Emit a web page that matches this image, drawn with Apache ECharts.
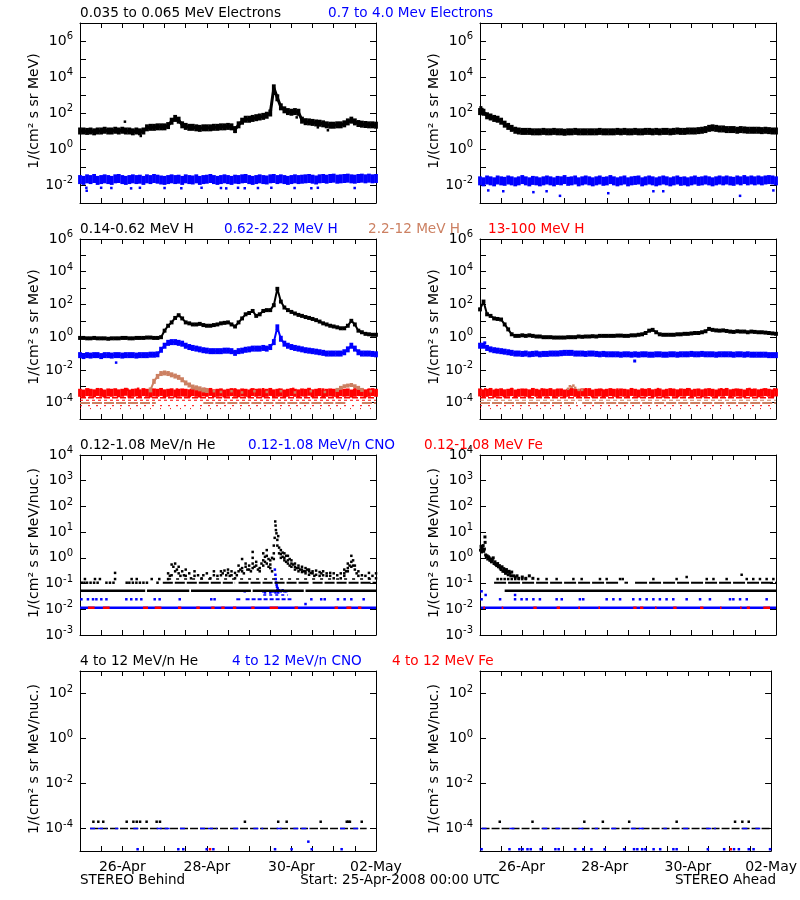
<!DOCTYPE html>
<html><head><meta charset="utf-8">
<script src="https://cdn.jsdelivr.net/npm/echarts@6/dist/echarts.min.js"></script>
<style>html,body{margin:0;padding:0;background:#fff}#c{width:800px;height:900px}</style>
</head><body><div id="c"></div>
<script>
// ---------------- DATA ----------------
// time: hours since 25-Apr-2008 00:00 UTC; tabulated curves are sampled every 2 h
const START_MS = Date.UTC(2008, 3, 25);
const SAMPLE_STEP_H = 2;
const xLabelHours = [24, 72, 120, 168];
const monthNames = ['Jan','Feb','Mar','Apr','May','Jun','Jul','Aug','Sep','Oct','Nov','Dec'];

// Row 1: electrons
const eLoBehind = [10,10,9.5,10,9,10,10,11,10,10,11,10,11,10,10,9,10,9,10,
  15,16,16,17,17,17,20,35,50,40,22,18,16,16,15,14,15,15,15,16,16,17,17,18,17,
  12,22,35,45,45,50,55,60,65,75,100,2500,700,220,150,120,110,120,110,40,33,32,30,28,27,25,22,21,21,22,22,25,32,40,32,26,24,23,22,22,21];
const eLoBehindOut = [[25.5,33],[34.5,5.3],[123,57],[135,16],[140.7,11],[88,9]];
const eHiBehind = [0.020,0.018,0.022,0.020,0.023,0.018,0.020,0.022,0.020,0.018,
  0.022,0.023,0.020,0.018,0.020,0.022,0.020,0.021,0.018,0.022,
  0.020,0.023,0.021,0.019,0.018,0.020,0.022,0.020,0.021,0.018,
  0.022,0.020,0.019,0.022,0.018,0.020,0.021,0.023,0.020,0.018,
  0.020,0.022,0.020,0.018,0.021,0.020,0.022,0.023,0.020,0.018,
  0.020,0.022,0.020,0.019,0.022,0.023,0.020,0.022,0.020,0.018,
  0.020,0.022,0.020,0.021,0.022,0.023,0.021,0.019,0.022,0.023,
  0.021,0.023,0.024,0.021,0.022,0.023,0.024,0.022,0.021,0.023,
  0.024,0.022,0.024,0.022,0.023];
const eHiBehindOut = [[3.6,0.007],[3.8,0.0048],[12,0.007],[17.8,0.0068],[29,0.0065],[34,0.007],[48,0.0068],[57.5,0.0066],[69,0.007],[80,0.0068],[83,0.0065],[89.7,0.007],[93.5,0.0066],[101,0.0068],[108.6,0.007],[121.8,0.0068],[131.3,0.0066],[135,0.007],[155.9,0.0068]];
const eLoAhead = [120,110,70,60,50,45,35,24,18,14,
  11,10,9.5,9.5,9.5,9,9,9,9.5,9,
  9,9.5,9,9,8.5,9,9,9.5,9,9,
  9,9,9,9,9.5,9,9,9,9,9.5,
  9,9.5,9,9,9.5,9,9,9.5,9.5,9,
  9.5,9,9.5,9.5,9,9.5,10,9.5,9.5,10,
  10,10,10.5,11,12,14,15,14,13,13,
  12,12,12,11,12,11.5,11,11,11,11,
  10.5,11,10.5,10,10];
const eLoAheadOut = [[0.5,200],[1.2,160],[3,90]];
const eHiAhead = [0.017,0.015,0.019,0.017,0.015,0.019,0.017,0.016,0.019,0.017,
  0.015,0.017,0.020,0.017,0.015,0.018,0.017,0.015,0.017,0.019,
  0.017,0.015,0.018,0.017,0.020,0.016,0.017,0.019,0.015,0.017,
  0.019,0.017,0.015,0.017,0.019,0.016,0.017,0.020,0.017,0.015,
  0.017,0.019,0.015,0.017,0.018,0.019,0.015,0.017,0.019,0.017,
  0.015,0.017,0.019,0.017,0.015,0.017,0.019,0.016,0.017,0.015,
  0.017,0.019,0.016,0.017,0.019,0.017,0.015,0.017,0.019,0.017,
  0.019,0.017,0.016,0.019,0.017,0.020,0.017,0.019,0.017,0.019,
  0.017,0.019,0.020,0.019,0.017];
const eHiAheadOut = [[4.7,0.005],[13.2,0.0045],[30.3,0.004],[37.8,0.0045],[45.4,0.0025],[72.8,0.0035],[98.4,0.0045],[104,0.0045],[147.6,0.0025],[166.5,0.005]];

// Row 2: protons
const hLoBehind = [0.9,0.9,0.85,0.85,0.9,0.85,0.85,0.85,0.8,0.85,0.85,0.85,0.9,0.9,0.85,0.85,0.9,0.9,0.9,0.95,0.95,0.9,0.9,1.0,
  2.5,5,8,15,22,14,8,7,6,6,
  6.5,5.5,5,5,5.5,6,7,7.5,8,6,
  4.5,8,14,25,30,40,20,25,40,45,
  45,90,900,150,65,45,35,28,23,20,
  17,15,13,11,9,7,6,5,4.5,4,
  3.5,3.5,5,10,6,2.5,2,1.6,1.5,1.4,
  1.4];
const hMidBehind = [0.08,0.07,0.08,0.075,0.08,0.08,0.07,0.08,0.08,0.075,0.08,0.08,0.075,0.08,0.08,0.08,0.075,0.08,0.08,0.08,0.085,0.085,0.09,
  0.17,0.3,0.45,0.5,0.5,0.45,0.4,0.3,0.25,0.22,
  0.2,0.18,0.16,0.15,0.14,0.14,0.14,0.14,0.15,0.15,
  0.14,0.11,0.14,0.15,0.17,0.18,0.2,0.2,0.2,0.22,
  0.2,0.25,0.5,4,0.8,0.4,0.3,0.25,0.22,0.2,
  0.18,0.16,0.15,0.14,0.13,0.12,0.11,0.1,0.1,0.1,
  0.1,0.1,0.12,0.18,0.3,0.2,0.12,0.1,0.1,0.1,
  0.095,0.09];
const hMidBehindOut = [[20.5,0.028]];
const hHiBehind = [[40,0.0006],[42,0.002],[44,0.004],[46,0.006],[48,0.0065],[50,0.006],[52,0.005],[54,0.0042],[56,0.0035],[58,0.0025],[60,0.0016],[62,0.0012],[64,0.0009],[66,0.0008],[68,0.0007],[70,0.0006],[72,0.00055]];
const hHiBehindBump = [[146,0.0006],[148,0.0008],[150,0.001],[152,0.0011],[154,0.0012],[156,0.001],[158,0.0008],[160,0.0006]];
const hHiBehindDots = [[76,0.0005],[80,0.00045],[86,0.0005],[92,0.00042],[99,0.0005],[106,0.00045],[114,0.0005],[122,0.00042],[131,0.0005],[139,0.00045],[165,0.0005]];
const hTopBehind = [4.0e-4,3.6e-4,4.4e-4,4.0e-4,3.7e-4,4.5e-4,4.0e-4,3.6e-4,4.2e-4,4.0e-4,
  4.3e-4,3.7e-4,4.0e-4,4.6e-4,3.6e-4,4.0e-4,4.2e-4,3.7e-4,4.4e-4,4.0e-4,
  3.6e-4,4.2e-4,4.0e-4,4.5e-4,3.7e-4,4.0e-4,4.3e-4,3.6e-4,4.0e-4,4.2e-4,
  4.0e-4,3.7e-4,4.4e-4,4.0e-4,3.6e-4,4.2e-4,4.0e-4,4.5e-4,3.7e-4,4.0e-4,
  4.2e-4,3.6e-4,4.0e-4,4.4e-4,4.0e-4,3.7e-4,4.2e-4,4.0e-4,3.6e-4,4.4e-4,
  4.0e-4,4.2e-4,3.7e-4,4.0e-4,4.5e-4,3.7e-4,4.0e-4,4.2e-4,3.6e-4,4.0e-4,
  4.4e-4,4.0e-4,3.7e-4,4.2e-4,4.0e-4,4.6e-4,3.7e-4,4.0e-4,4.4e-4,3.6e-4,
  4.0e-4,4.2e-4,4.0e-4,3.7e-4,4.4e-4,4.0e-4,4.2e-4,3.6e-4,4.0e-4,4.4e-4,
  4.2e-4,3.7e-4,4.0e-4,4.4e-4,4.0e-4];
const hTopBehindOut = [[5,6e-4],[12,6.5e-4],[20,5.8e-4],[27,6.2e-4],[33,7e-4],[41,6e-4],[55,6.3e-4],[63,6e-4],[71,6.8e-4],[80,5.9e-4],[88,6.4e-4],[97,6e-4],[104,6.6e-4],[113,6.1e-4],[121,6.9e-4],[130,6e-4],[138,6.3e-4],[147,6e-4],[156,6.5e-4],[164,6.2e-4]];
const hTopLevelsBehind = [2.0e-4, 1.4e-4, 6.5e-5, 4.3e-5];
const hHiLevelBehind = 9.5e-5;
const hHiLevelSegsBehind = [[0,43],[70,151],[160,168]];

const hLoAhead = [50,150,25,20,14,13,12,6,3,1.5,
  1.2,1.2,1.3,1.2,1.3,1.2,1.1,1.1,1.0,1.0,
  1.0,0.95,0.95,0.95,0.95,1.0,1.0,1.0,1.1,1.05,
  1.1,1.1,1.15,1.1,1.2,1.2,1.2,1.2,1.2,1.25,
  1.25,1.2,1.2,1.3,1.3,1.4,1.5,1.8,2.5,2.8,
  2.0,1.5,1.4,1.4,1.4,1.4,1.5,1.5,1.6,1.6,
  1.7,1.8,1.8,2.0,2.3,3.2,2.8,2.6,2.5,2.6,
  2.4,2.2,2.1,2.3,2.2,2.2,2.0,2.2,2.1,2.0,
  2.0,1.9,1.8,1.7,1.6];
const hMidAhead = [0.3,0.3,0.22,0.18,0.16,0.15,0.14,0.13,0.12,0.11,
  0.1,0.1,0.095,0.1,0.09,0.095,0.1,0.09,0.095,0.095,
  0.1,0.1,0.1,0.105,0.11,0.11,0.11,0.1,0.1,0.1,
  0.095,0.1,0.1,0.095,0.09,0.095,0.09,0.09,0.09,0.09,
  0.085,0.09,0.09,0.085,0.09,0.085,0.09,0.09,0.085,0.085,
  0.09,0.09,0.085,0.085,0.09,0.09,0.085,0.09,0.09,0.09,
  0.095,0.09,0.09,0.095,0.09,0.09,0.09,0.085,0.09,0.09,
  0.09,0.09,0.085,0.09,0.09,0.085,0.09,0.085,0.085,0.085,
  0.085,0.085,0.08,0.08,0.08];
const hMidAheadOut = [[2.7,0.45],[87.8,0.035]];
const hHiAheadDots = [[50,0.0007],[51,0.001],[52,0.0009],[53,0.0011],[54,0.0008],[56,0.0006],[58,0.0006]];
const hTopAhead = [4.2e-4,3.7e-4,4.0e-4,4.5e-4,3.6e-4,4.0e-4,4.3e-4,3.7e-4,4.0e-4,4.4e-4,
  3.6e-4,4.0e-4,4.2e-4,4.0e-4,3.7e-4,4.5e-4,4.0e-4,3.6e-4,4.2e-4,4.0e-4,
  4.4e-4,3.7e-4,4.0e-4,4.2e-4,3.6e-4,4.0e-4,4.5e-4,4.0e-4,3.7e-4,4.2e-4,
  4.0e-4,4.4e-4,3.6e-4,4.0e-4,4.2e-4,3.7e-4,4.0e-4,4.4e-4,4.0e-4,3.6e-4,
  4.2e-4,4.0e-4,3.7e-4,4.5e-4,4.0e-4,3.6e-4,4.2e-4,4.0e-4,4.4e-4,3.7e-4,
  4.0e-4,4.2e-4,3.6e-4,4.0e-4,4.4e-4,4.0e-4,3.7e-4,4.2e-4,4.0e-4,4.5e-4,
  3.6e-4,4.0e-4,4.2e-4,3.7e-4,4.0e-4,4.4e-4,4.0e-4,3.6e-4,4.2e-4,4.0e-4,
  4.5e-4,3.7e-4,4.0e-4,4.2e-4,4.0e-4,3.6e-4,4.4e-4,4.0e-4,4.2e-4,3.7e-4,
  4.0e-4,4.4e-4,4.0e-4,3.7e-4,4.2e-4];
const hTopAheadOut = [[3,6.5e-4],[9,6e-4],[18,6.8e-4],[26,6e-4],[35,6.4e-4],[44,6.1e-4],[60,6.6e-4],[69,6e-4],[78,6.3e-4],[92,6e-4],[101,6.7e-4],[110,6e-4],[119,6.4e-4],[128,6.1e-4],[137,6.6e-4],[145,6e-4],[153,6.8e-4],[161,6.2e-4],[167,6.4e-4]];
const hTopLevelsAhead = [2.0e-4, 6.5e-5, 4.3e-5];
const hHiLevelsAhead = [1.4e-4, 9.5e-5];
const hHiLevelSegsAhead = [[0,55],[58,168]];

// Row 3: 0.12-1.08 MeV/n heavy ions
const heLowBehind = [[0.053, [[0,37],[38,62],[63,97],[98,127],[128,168]]], [0.108, [[47,88],[90,130],[132,168]]], [0.15, [[50,168]]]];
const heSparseBehind = [[1,0.108],[2.5,0.108],[4,0.108],[6,0.108],[8,0.108],[10,0.108],[15,0.108],[17,0.108],[19,0.108],[26.5,0.108],[28,0.108],[30,0.108],[32,0.108],[34,0.108],[36,0.108],[38,0.108],[44,0.108],[2.8,0.15],[8.5,0.15],[11.3,0.15],[19.9,0.15],[29.3,0.15],[32.2,0.15],[40.7,0.15],[45,0.15],[19.9,0.26]];
const heCloudBehind = [[50,0.25],[50,0.15],[51,0.2],[52,0.55],[52,0.21],[53,0.45],[54,0.6],[54,0.3],[55,0.35],[56,0.45],[56,0.25],[57,0.2],[58,0.3],[59,0.21],[60,0.35],[60,0.2],[62,0.25],[63,0.16],[65,0.2],[65,0.3],[67,0.21],[69,0.16],[70,0.21],[72,0.25],[74,0.16],[76,0.3],[76,0.21],[78,0.2],[80,0.3],[80,0.21],[81,0.25],[82,0.32],[83,0.21],[84,0.35],[84,0.26],[85,0.2],[86,0.3],[86,0.21],[88,0.26],[88,0.16],[89,0.21],[90,0.5],[90,0.3],[91,0.35],[92,0.9],[92,0.4],[92,0.3],[93,0.25],[94,0.6],[94,0.45],[95,0.35],[96,0.5],[96,0.35],[97,0.3],[98,1.7],[98,1.0],[98,0.6],[98,0.4],[99,0.45],[100,0.7],[100,0.5],[101,0.35],[102,0.4],[102,0.3],[103,0.6],[104,1.5],[104,0.8],[104,0.5],[105,1.1],[105,0.7],[106,2.0],[106,1.2],[106,0.6],[107,0.9],[107,0.45],[108,0.8],[108,0.55],[108,0.4],[109,1.0],[109,0.3],[110,3],[110,1.5],[110,0.9],[110.5,6],[110.8,26],[111,18],[111.2,12],[111.5,9],[112,5],[112,3],[112.5,7],[113,2.5],[113,1.5],[114,2],[114,1.4],[114,1.0],[115,1.6],[115,1.1],[116,1.5],[116,1.0],[116,0.8],[117,1.2],[117,0.7],[118,1.2],[118,0.8],[118,0.6],[119,0.9],[119,0.5],[120,0.8],[120,0.6],[120,0.45],[121,0.55],[122,0.6],[122,0.45],[122,0.35],[123,0.4],[124,0.5],[124,0.4],[124,0.3],[125,0.35],[126,0.45],[126,0.35],[126,0.28],[127,0.3],[128,0.4],[128,0.3],[128,0.25],[129,0.35],[130,0.35],[130,0.3],[130,0.22],[131,0.26],[132,0.3],[132,0.25],[133,0.2],[134,0.32],[134,0.22],[136,0.28],[136,0.2],[137,0.25],[138,0.3],[138,0.21],[140,0.25],[140,0.2],[142,0.26],[142,0.2],[144,0.25],[144,0.16],[146,0.21],[148,0.25],[148,0.16],[150,0.35],[150,0.25],[150,0.2],[151,0.3],[152,0.6],[152,0.4],[152,0.3],[153,0.5],[154,1.2],[154,0.7],[154,0.45],[155,0.8],[155,0.5],[156,0.5],[156,0.35],[157,0.25],[158,0.3],[158,0.2],[160,0.21],[162,0.2],[164,0.26],[164,0.16],[166,0.2],[168,0.25],[168,0.16]];
const cnoBaseBehind = [0.0115, [[0,168]]];
const cnoLvl2Behind = [0.0245, [[88.7,92],[94,120]]];
const cnoLvl3Behind = [0.036, [[104,118]]];
const cnoDotsBehind = [[0.8,0.0245],[4.5,0.0245],[7.4,0.0245],[9.3,0.0245],[12.1,0.0245],[15,0.0245],[26.3,0.0245],[29.1,0.0245],[32,0.0245],[34.8,0.0245],[42.4,0.0245],[45.2,0.0245],[56.6,0.0245],[74.5,0.0245],[76.4,0.0245],[131.3,0.0245],[136.9,0.0245],[138.9,0.0245],[146.4,0.0245],[150.2,0.0245],[154,0.0245],[161,0.0245],
  [110.6,0.35],[110.9,0.22],[111.1,0.15],[111.3,0.11],[111.6,0.09],[111.8,0.075],[112.2,0.065],[112,0.055],[113,0.055],[114,0.05],[115,0.055],[116,0.05],[117,0.05],[110,0.05],[109,0.05],[108,0.045],[104,0.05],[105,0.045],[93.5,0.05],[112.5,0.045],[111,0.045],[128,0.016]];
const feSegsBehind = [[4.5,8.3],[13,16.8],[35.8,38.6],[42.4,46.2],[55.6,57.5],[66,68],[74.5,76.4],[80.2,82.1],[86.8,88.7],[97.2,99.1],[107.6,112.4],[121.8,123.7],[144.5,146.4],[151.2,154],[157.8,159.7]];

const heDecayAhead = [[0.3,2.0],[0.6,2.8],[0.9,1.7],[1.2,2.4],[1.5,2.0],[1.8,3.0],[2.1,1.8],[2.5,2.2],[2.8,6.5],[2.9,4],[3.2,1.3],[3.6,1.1],[4,1.2],[4.4,0.9],[4.8,1.1],[5.2,1.0],[5.6,0.8],[6,0.9],[6.5,0.7],[7,0.8],[7.5,1.0],[8,0.6],[8.5,0.7],[9,0.55],[9.5,0.5],[10,0.6],[10.5,0.45],[11,0.5],[11.5,0.4],[12,0.35],[12.5,0.45],[13,0.3],[13.5,0.38],[14,0.3],[14.5,0.25],[15,0.35],[15.5,0.28],[16,0.22],[16.5,0.3],[17,0.25],[17.5,0.2],[18,0.28],[19,0.2],[20,0.18],[21,0.2],[22,0.16],[24,0.18],[26,0.16],[28,0.2],[30,0.16]];
const heLowAhead = [[0.053, [[14,168]]], [0.108, [[8,79],[82,84],[88,168]]]];
const heSparseAhead = [[10,0.15],[12,0.15],[14,0.15],[16,0.15],[18,0.15],[20,0.15],[22,0.15],[24,0.15],[26,0.15],[33,0.15],[37.8,0.15],[43.5,0.15],[53,0.15],[57.7,0.15],[68.1,0.15],[71.9,0.15],[79.5,0.15],[81,0.15],[98.4,0.15],[111.6,0.15],[117.3,0.18],[128.7,0.15],[132.5,0.15],[140,0.15],[148.5,0.22],[151.4,0.15],[155.1,0.15],[158.9,0.15],[162.7,0.15],[166.5,0.15]];
const cnoBaseAhead = [0.0115, [[0.5,168]]];
const cnoDotsAhead = [[0.9,0.0245],[11.4,0.0245],[19.9,0.0245],[23.6,0.0245],[26.5,0.0245],[30.3,0.0245],[34,0.0245],[43.5,0.0245],[46.4,0.0245],[56.7,0.0245],[58.6,0.0245],[71.9,0.0245],[75.7,0.0245],[79.5,0.0245],[87,0.0245],[90.8,0.0245],[94.6,0.0245],[98.4,0.0245],[102.1,0.0245],[105.9,0.0245],[109.7,0.0245],[117.3,0.0245],[124.9,0.0245],[130.5,0.0245],[141.9,0.0245],[143.8,0.0245],[147.6,0.0245],[151.4,0.0245],[162.7,0.0245],[0.9,0.05],[3.2,0.036],[19.9,0.036]];
const feSegsAhead = [[1.9,2.8],[12.3,13.2],[30.3,32.2],[43.5,45.4],[55.8,56.7],[67.2,68.1],[87,88.9],[90.8,92.7],[99.3,100.2],[109.7,111.6],[124.9,126.8],[136.2,137.1],[147.6,148.5],[151.4,153.2],[160.8,164.6]];

// Row 4: 4-12 MeV/n ions
const he4Behind = [1e-4, [[5.7,162.7]]];
const cno4SegsBehind = [[5.7,15.1],[19.9,21.8],[30.3,34.1],[43.5,51.1],[56.7,60.5],[68.1,77.6],[87,90.8],[98.4,104],[111.6,115.4],[121.1,130.5],[147.6,151.4],[155.1,158.9]];
const he4DotsBehind = [[7.6,2e-4],[10.4,2e-4],[13.2,2e-4],[26.5,2e-4],[30.3,2e-4],[32.2,2e-4],[34.1,2e-4],[37.8,2e-4],[43.5,2e-4],[45.4,2e-4],[93.6,2e-4],[112.5,2e-4],[117.3,2e-4],[136.6,2e-4],[151.4,2e-4],[152.3,2e-4],[153.2,2e-4],[159.9,2e-4]];
const cno4DotsBehind = [[32.7,1.2e-5],[55.8,1.2e-5],[58.6,1.2e-5],[71.9,1.2e-5],[75.7,1.2e-5],[110.7,1.2e-5],[120.1,1.2e-5],[131.5,1.2e-5],[148.5,1.2e-5],[129.6,2.6e-5]];
const fe4DotsBehind = [[73.8,1.2e-5]];
const he4Ahead = [1e-4, [[0.9,168]]];
const cno4SegsAhead = [[0.9,3.8],[17,19.9],[36,38.8],[43.5,47.3],[56.8,60.5],[66.2,68.1],[75.7,79.5],[87,94.6],[105.9,107.8],[117.3,121.1],[130.5,136.2],[151.4,155.1],[158.9,162.7]];
const he4DotsAhead = [[11.4,2e-4],[30.3,2e-4],[60.2,2e-4],[70.9,2e-4],[86.1,2e-4],[113.5,2e-4],[147.2,2e-4],[151.4,2e-4],[155.1,2e-4]];
const cno4DotsAhead = [[0.9,1.2e-5],[17,1.2e-5],[22.7,1.2e-5],[24.6,1.2e-5],[27.4,1.2e-5],[29.3,1.2e-5],[35,1.2e-5],[43.5,1.2e-5],[45.4,1.2e-5],[54.9,1.2e-5],[59.6,1.2e-5],[64.3,1.2e-5],[71.9,1.2e-5],[83.2,1.2e-5],[88.9,1.2e-5],[90.8,1.2e-5],[93.6,1.2e-5],[95.5,1.2e-5],[100.2,1.2e-5],[104,1.2e-5],[111.6,1.2e-5],[113.5,1.2e-5],[131.5,1.2e-5],[140.9,1.2e-5],[146.6,1.2e-5],[149.4,1.2e-5],[155.1,1.2e-5],[157.9,1.2e-5],[167.4,1.2e-5]];
const fe4DotsAhead = [[144.7,1.2e-5]];

// axis tick / label exponents per row
const yRangeExp = [[-3,7],[-5,6],[-3,4],[-5,3]];
const yTickExp = [[-2,-1,0,1,2,3,4,5,6],[-4,-3,-2,-1,0,1,2,3,4,5],[-2,-1,0,1,2,3],[-4,-2,0,2]];
const yLabelExp = [[-2,0,2,4,6],[-4,-2,0,2,4,6],[-3,-2,-1,0,1,2,3,4],[-4,-2,0,2]];
const yNames = ['1/(cm\u00b2 s sr MeV)','1/(cm\u00b2 s sr MeV)','1/(cm\u00b2 s sr MeV/nuc.)','1/(cm\u00b2 s sr MeV/nuc.)'];
const rowTitles = [
  [['0.035 to 0.065 MeV Electrons','k'],['0.7 to 4.0 Mev Electrons','b']],
  [['0.14-0.62 MeV H','k'],['0.62-2.22 MeV H','b'],['2.2-12 MeV H','o'],['13-100 MeV H','r']],
  [['0.12-1.08 MeV/n He','k'],['0.12-1.08 MeV/n CNO','b'],['0.12-1.08 MeV Fe','r']],
  [['4 to 12 MeV/n He','k'],['4 to 12 MeV/n CNO','b'],['4 to 12 MeV Fe','r']]
];
const footer = ['STEREO Behind','Start: 25-Apr-2008 00:00 UTC','STEREO Ahead'];

// ---------------- LAYOUT / STYLE ----------------
const COL = {k:'#000000', b:'#0000ff', r:'#ff0000', o:'#cc8062'};
const FONT = 'DejaVu Sans';
const panelTops = [23, 239, 455, 671];
const panelLefts = [80, 480];
const PW = 296, PH = 180;
const titleX = [[80,328],[80,224,368,488],[80,248,424],[80,232,392]];

const lg = Math.log10;
const grids = [], xAxes = [], yAxes = [], series = [];
const fmtDay = h => { const d = new Date(START_MS + h*3600000); return String(d.getUTCDate()).padStart(2,'0') + '-' + monthNames[d.getUTCMonth()]; };

for (let row = 0; row < 4; row++) {
  for (let col = 0; col < 2; col++) {
    const p = row*2 + col;
    grids.push({left: panelLefts[col], top: panelTops[row], width: PW, height: PH});
    const axl = {show:true, onZero:false, lineStyle:{color:'#000', width:1}};
    const baseX = {gridIndex:p, type:'value', min:0, max:168, interval:12, axisLine:axl,
      axisTick:{show:true, inside:true, length:5, lineStyle:{color:'#000'}}, splitLine:{show:false}};
    xAxes.push(Object.assign({}, baseX, {position:'bottom',
      axisLabel:{show: row===3, customValues: xLabelHours, formatter: v => fmtDay(v), color:'#000', fontFamily:FONT, fontSize:14, margin:9}}));
    xAxes.push(Object.assign({}, baseX, {position:'top', axisLabel:{show:false}}));
    const baseY = {gridIndex:p, type:'value', min:yRangeExp[row][0], max:yRangeExp[row][1], axisLine:axl,
      axisTick:{show:true, inside:true, length:6, customValues: yTickExp[row], lineStyle:{color:'#000'}}, splitLine:{show:false}};
    yAxes.push(Object.assign({}, baseY, {position:'left',
      axisLabel:{show:true, customValues: yLabelExp[row], margin:7,
        formatter: v => '{b|10}{s|' + Math.round(v) + '}',
        rich:{b:{fontFamily:FONT, fontSize:14, color:'#000'}, s:{fontFamily:FONT, fontSize:10, color:'#000', padding:[0,0,9,0]}}}}));
    yAxes.push(Object.assign({}, baseY, {position:'right', axisLabel:{show:false}}));
  }
}

function ax(p){ return {xAxisIndex:2*p, yAxisIndex:2*p, animation:false, silent:true, emphasis:{disabled:true}}; }
function curve(p, vals, color, sym, lw) {
  series.push(Object.assign(ax(p), {type:'line', data: vals.map((v,i)=>[i*SAMPLE_STEP_H, lg(v)]),
    symbol:'rect', symbolSize:sym, showSymbol:true, showAllSymbol:true, itemStyle:{color, opacity:1, borderWidth:0}, lineStyle:{color, width:lw, opacity:1}}));
}
function band(p, vals, color, sym) {
  series.push(Object.assign(ax(p), {type:'scatter', data: vals.map((v,i)=>[i*SAMPLE_STEP_H, lg(v)]),
    symbol:'rect', symbolSize:sym, itemStyle:{color, opacity:1}}));
}
function dots(p, pairs, color, size) {
  series.push(Object.assign(ax(p), {type:'scatter', data: pairs.map(d=>[d[0], lg(d[1])]),
    symbol:'rect', symbolSize:size, itemStyle:{color, opacity:1}}));
}
function pairCurve(p, pairs, color, sym, lw) {
  series.push(Object.assign(ax(p), {type:'line', data: pairs.map(d=>[d[0], lg(d[1])]),
    symbol:'rect', symbolSize:sym, showSymbol:true, itemStyle:{color, opacity:1, borderWidth:0}, lineStyle:{color, width:lw, opacity:1}}));
}
function level(p, segs, v, color, width, dash) {
  segs.forEach(s => series.push(Object.assign(ax(p), {type:'line', data:[[s[0], lg(v)],[s[1], lg(v)]],
    symbol:'none', lineStyle:{color, width, opacity:1, type: dash || 'solid'}})));
}

// Row 1
band(0, eHiBehind, COL.b, [3.8, 9]);
dots(0, eHiBehindOut, COL.b, 2.5);
curve(0, eLoBehind, COL.k, [3.8, 7], 3);
dots(0, eLoBehindOut, COL.k, 2.5);
band(1, eHiAhead, COL.b, [3.8, 9]);
dots(1, eHiAheadOut, COL.b, 2.5);
curve(1, eLoAhead, COL.k, [3.8, 7], 3);
dots(1, eLoAheadOut, COL.k, 3);

// Row 2
band(2, hTopBehind, COL.r, [3.8, 8]);
dots(2, hTopBehindOut, COL.r, 2.5);
level(2, [[0,168]], hTopLevelsBehind[0], COL.r, 1.5, [6,2]);
level(2, [[0,168]], hTopLevelsBehind[1], COL.r, 1, [3,3]);
level(2, hHiLevelSegsBehind, hHiLevelBehind, COL.o, 2, [10,2]);
level(2, [[0,168]], hTopLevelsBehind[2], COL.r, 1, [2,6]);
level(2, [[0,168]], hTopLevelsBehind[3], COL.r, 1, [1,9]);
pairCurve(2, hHiBehind, COL.o, [3.5, 5], 2);
pairCurve(2, hHiBehindBump, COL.o, [3.5, 4], 1.5);
dots(2, hHiBehindDots, COL.o, 2.5);
curve(2, hMidBehind, COL.b, [3.8, 6], 2);
dots(2, hMidBehindOut, COL.b, 2.5);
curve(2, hLoBehind, COL.k, [3.8, 4], 2);

band(3, hTopAhead, COL.r, [3.8, 8]);
dots(3, hTopAheadOut, COL.r, 2.5);
level(3, [[0,168]], hTopLevelsAhead[0], COL.r, 1.5, [6,2]);
level(3, [[0,168]], hHiLevelsAhead[0], COL.o, 1, [4,3]);
level(3, hHiLevelSegsAhead, hHiLevelsAhead[1], COL.o, 2, [10,2]);
level(3, [[0,168]], hTopLevelsAhead[1], COL.r, 1, [2,6]);
level(3, [[0,168]], hTopLevelsAhead[2], COL.r, 1, [1,9]);
dots(3, hHiAheadDots, COL.o, 2.5);
curve(3, hMidAhead, COL.b, [3.8, 6], 2);
dots(3, hMidAheadOut, COL.b, 3);
curve(3, hLoAhead, COL.k, [3.8, 4], 2);

// Row 3
level(4, cnoBaseBehind[1], cnoBaseBehind[0], COL.b, 2.5);
level(4, feSegsBehind, cnoBaseBehind[0], COL.r, 2.5);
level(4, cnoLvl2Behind[1], cnoLvl2Behind[0], COL.b, 2, [4,2]);
level(4, cnoLvl3Behind[1], cnoLvl3Behind[0], COL.b, 1.5, [3,3]);
dots(4, cnoDotsBehind, COL.b, 2.5);
level(4, heLowBehind[0][1], heLowBehind[0][0], COL.k, 2.5);
level(4, heLowBehind[1][1], heLowBehind[1][0], COL.k, 2, [10,2]);
level(4, heLowBehind[2][1], heLowBehind[2][0], COL.k, 1.5, [3,5]);
dots(4, heSparseBehind, COL.k, 2.5);
dots(4, heCloudBehind, COL.k, 2.5);

level(5, cnoBaseAhead[1], cnoBaseAhead[0], COL.b, 2.5);
level(5, feSegsAhead, cnoBaseAhead[0], COL.r, 2.5);
dots(5, cnoDotsAhead, COL.b, 2.5);
level(5, heLowAhead[0][1], heLowAhead[0][0], COL.k, 2.5);
level(5, heLowAhead[1][1], heLowAhead[1][0], COL.k, 2, [12,2]);
dots(5, heSparseAhead, COL.k, 2.5);
dots(5, heDecayAhead, COL.k, 3);

// Row 4
level(6, he4Behind[1], he4Behind[0], COL.k, 1.5, [8,2]);
level(6, cno4SegsBehind, he4Behind[0], COL.b, 1.5, [5,3]);
dots(6, he4DotsBehind, COL.k, 2.5);
dots(6, cno4DotsBehind, COL.b, 2.5);
dots(6, fe4DotsBehind, COL.r, 2.5);
level(7, he4Ahead[1], he4Ahead[0], COL.k, 1.5, [8,2]);
level(7, cno4SegsAhead, he4Ahead[0], COL.b, 1.5, [5,3]);
dots(7, he4DotsAhead, COL.k, 2.5);
dots(7, cno4DotsAhead, COL.b, 2.5);
dots(7, fe4DotsAhead, COL.r, 2.5);

// Text graphics
const graphic = [];
rowTitles.forEach((items, row) => {
  items.forEach((it, k) => {
    graphic.push({type:'text', x: titleX[row][k], y: panelTops[row] - 10,
      style:{text: it[0], fill: COL[it[1]], font: '13.6px "' + FONT + '"', align:'left', verticalAlign:'middle'}, silent:true});
  });
  [0,1].forEach(col => {
    graphic.push({type:'text', x: panelLefts[col] - 46, y: panelTops[row] + PH/2 - 2, rotation: Math.PI/2,
      style:{text: yNames[row], fill:'#000', font: '14px "' + FONT + '"', align:'center', verticalAlign:'middle'}, silent:true});
  });
});
graphic.push({type:'text', x:80, y:880, style:{text: footer[0], fill:'#000', font:'13.5px "' + FONT + '"', align:'left', verticalAlign:'middle'}});
graphic.push({type:'text', x:400, y:880, style:{text: footer[1], fill:'#000', font:'13.5px "' + FONT + '"', align:'center', verticalAlign:'middle'}});
graphic.push({type:'text', x:776, y:880, style:{text: footer[2], fill:'#000', font:'13.5px "' + FONT + '"', align:'right', verticalAlign:'middle'}});

const chart = echarts.init(document.getElementById('c'), null, {renderer:'canvas', width:800, height:900});
chart.setOption({backgroundColor:'#ffffff', animation:false, grid: grids, xAxis: xAxes, yAxis: yAxes, series, graphic});
</script></body></html>
